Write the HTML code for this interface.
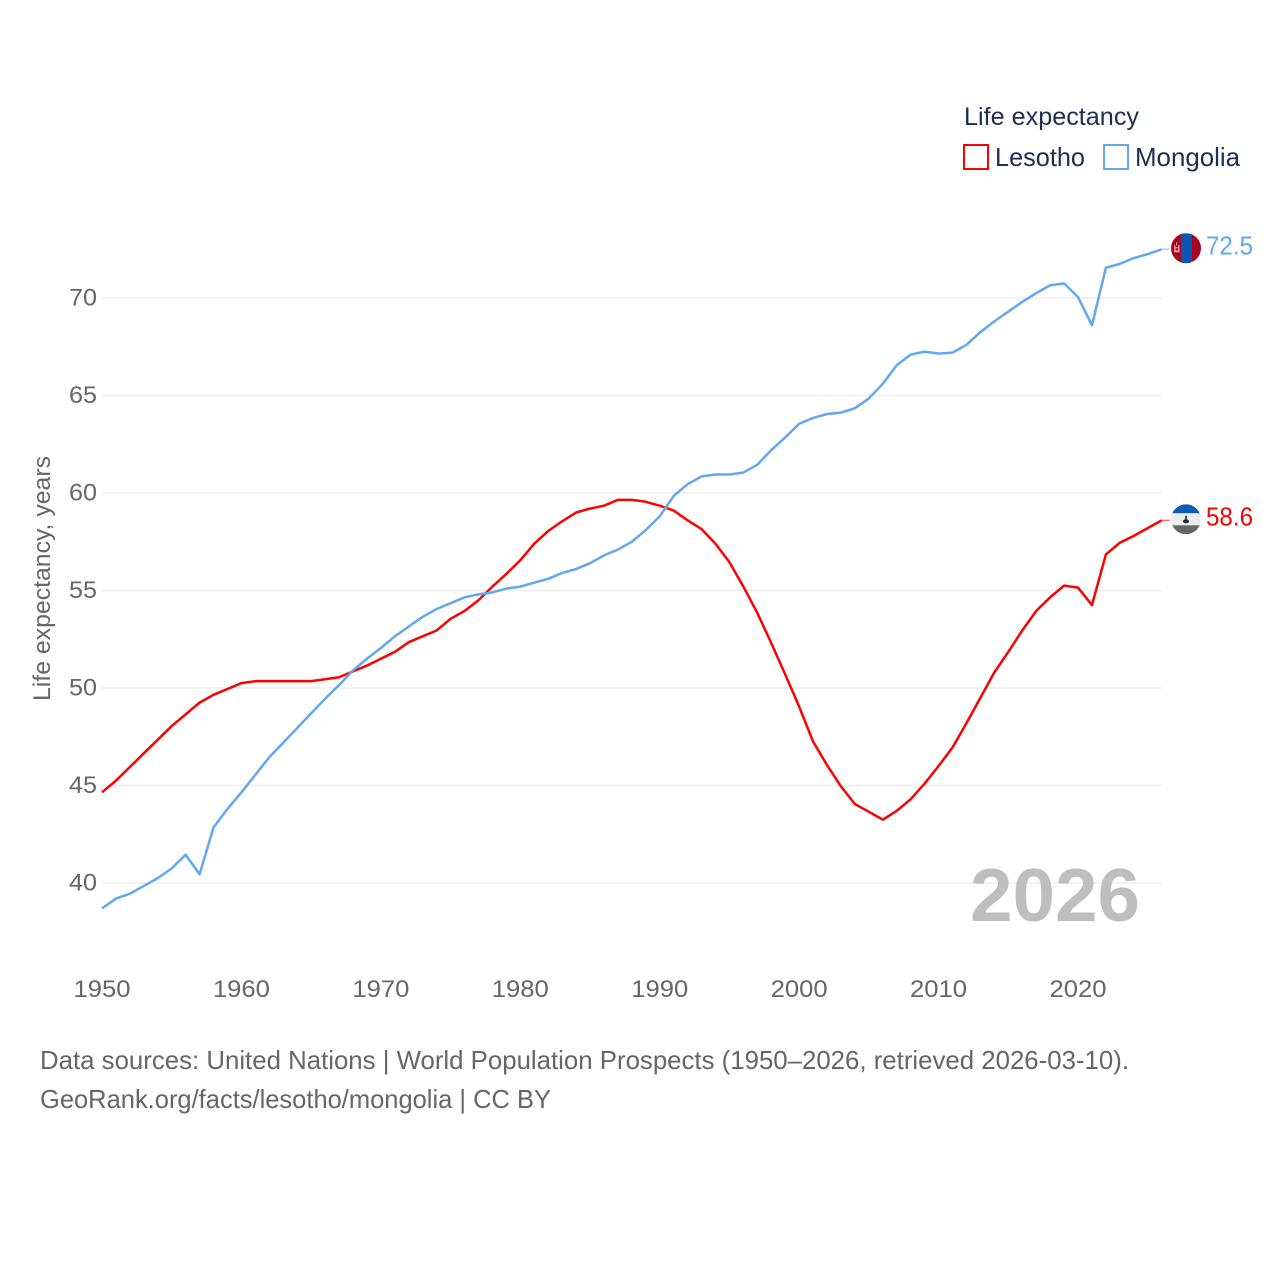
<!DOCTYPE html>
<html lang="en">
<head>
<meta charset="utf-8">
<title>Life expectancy: Lesotho and Mongolia</title>
<style>
html,body{margin:0;padding:0;background:#fff;}
svg{display:block;font-family:"Liberation Sans",sans-serif;}
</style>
</head>
<body>
<svg id="chart" xmlns="http://www.w3.org/2000/svg" width="1280" height="1280" viewBox="0 0 1280 1280">
  <rect width="1280" height="1280" fill="#ffffff"/>
  <g id="grid"></g>
  <g id="yticks"></g>
  <g id="xticks"></g>
  <text transform="translate(50,701) rotate(-90)" font-size="24" fill="#666666" textLength="245" lengthAdjust="spacingAndGlyphs">Life expectancy, years</text>

  <text x="970" y="921" font-size="75" font-weight="700" fill="#bebebe" textLength="170" lengthAdjust="spacingAndGlyphs">2026</text>
  <g id="series"></g>

  <g>
    <text x="964" y="125" font-size="25" fill="#1b2f50" textLength="175" lengthAdjust="spacingAndGlyphs">Life expectancy</text>
    <g>
      <rect x="964" y="145" width="24" height="24" fill="none" stroke="#ff0000" stroke-width="2"/>
      <text x="995" y="166" font-size="26" fill="#1b2f50" textLength="90" lengthAdjust="spacingAndGlyphs">Lesotho</text>
    </g>
    <g>
      <rect x="1104" y="145" width="24" height="24" fill="none" stroke="#63a8ee" stroke-width="2"/>
      <text x="1135" y="166" font-size="26" fill="#1b2f50" textLength="105" lengthAdjust="spacingAndGlyphs">Mongolia</text>
    </g>
  </g>

  <g id="flags"></g>

  <g>
    <text x="40" y="1069" font-size="26" fill="#666666" textLength="1089" lengthAdjust="spacingAndGlyphs">Data sources: United Nations | World Population Prospects (1950–2026, retrieved 2026-03-10).</text>
    <text x="40" y="1108" font-size="26" fill="#666666" textLength="511" lengthAdjust="spacingAndGlyphs">GeoRank.org/facts/lesotho/mongolia | CC BY</text>
  </g>

  <defs>
    <clipPath id="clip-mongolia"><circle id="clip-mongolia-circle" r="15"/></clipPath>
    <clipPath id="clip-lesotho"><circle id="clip-lesotho-circle" r="15"/></clipPath>
  </defs>
</svg>
<script>
const startYear = 1950;
const xTickYears = [1950, 1960, 1970, 1980, 1990, 2000, 2010, 2020];
const yTickValues = [40, 45, 50, 55, 60, 65, 70];
const lesothoValues = [
  44.65, 45.25, 45.95, 46.65, 47.35, 48.05, 48.65, 49.25, 49.65, 49.95,
  50.25, 50.35, 50.35, 50.35, 50.35, 50.35, 50.45, 50.55, 50.85, 51.15,
  51.5, 51.85, 52.35, 52.65, 52.95, 53.55, 53.95, 54.5, 55.2, 55.85,
  56.55, 57.4, 58.05, 58.55, 59.0, 59.2, 59.35, 59.65, 59.65, 59.55,
  59.35, 59.1, 58.6, 58.15, 57.4, 56.45, 55.2, 53.85, 52.3, 50.7,
  49.05, 47.25, 46.05, 44.95, 44.05, 43.65, 43.25, 43.7, 44.3, 45.1,
  46.0, 46.95, 48.2, 49.5, 50.8, 51.85, 52.95, 53.95, 54.65, 55.25,
  55.15, 54.25, 56.85, 57.45, 57.8, 58.2, 58.6
];
const mongoliaValues = [
  38.7, 39.2, 39.45, 39.85, 40.25, 40.75, 41.45, 40.45, 42.85, 43.8,
  44.65, 45.55, 46.45, 47.2, 47.95, 48.7, 49.45, 50.15, 50.9, 51.5,
  52.05, 52.65, 53.15, 53.65, 54.05, 54.35, 54.65, 54.8, 54.9, 55.1,
  55.2, 55.4, 55.6, 55.9, 56.1, 56.4, 56.8, 57.1, 57.5, 58.1,
  58.8, 59.85, 60.45, 60.85, 60.95, 60.95, 61.05, 61.45, 62.2, 62.85,
  63.55, 63.85, 64.05, 64.12, 64.35, 64.85, 65.6, 66.55, 67.1, 67.25,
  67.15, 67.2, 67.6, 68.25, 68.8, 69.3, 69.8, 70.25, 70.65, 70.75,
  70.05, 68.6, 71.55, 71.75, 72.05, 72.25, 72.5
];

const SVG_NS = 'http://www.w3.org/2000/svg';
function xScale(year) { return 102 + (year - 1950) * (976 / 70); }
function yScale(value) { return 883 - (value - 40) * 19.5; }
function make(tag, parent) {
  const el = document.createElementNS(SVG_NS, tag);
  parent.appendChild(el);
  return el;
}
function setAll(el, attrs) {
  for (const k in attrs) el.setAttribute(k, attrs[k]);
}

const gridG = document.getElementById('grid');
const yTickG = document.getElementById('yticks');
const xTickG = document.getElementById('xticks');
const seriesG = document.getElementById('series');
const flagsG = document.getElementById('flags');

const endYear = startYear + lesothoValues.length - 1;

yTickValues.forEach(function (v) {
  const line = make('line', gridG);
  
  
  setAll(line, { x1: xScale(startYear), x2: xScale(endYear), y1: yScale(v), y2: yScale(v), stroke: '#eeeeee', 'stroke-width': 1.6 });
  const t = make('text', yTickG);
  
  
  setAll(t, { x: 69, y: yScale(v) + 7.5, 'font-size': 24, fill: '#666666', textLength: 28, lengthAdjust: 'spacingAndGlyphs' });
  t.textContent = String(v);
});

xTickYears.forEach(function (yr) {
  const t = make('text', xTickG);
  
  
  setAll(t, { x: xScale(yr) - 28.5, y: 997, 'font-size': 24, fill: '#666666', textLength: 57, lengthAdjust: 'spacingAndGlyphs' });
  t.textContent = String(yr);
});

function drawSeries(values, color) {
  const pts = values.map(function (v, i) {
    return xScale(startYear + i).toFixed(2) + ',' + yScale(v).toFixed(2);
  }).join(' ');
  const lastY = yScale(values[values.length - 1]);
  const connector = make('line', seriesG);
  
  
  setAll(connector, { x1: xScale(endYear), x2: xScale(endYear) + 8, y1: lastY, y2: lastY, stroke: color, 'stroke-width': 1.2, opacity: 0.7 });
  const line = make('polyline', seriesG);
  
  
  setAll(line, { points: pts, fill: 'none', stroke: color, 'stroke-width': 2.5, 'stroke-linejoin': 'round' });
}
drawSeries(lesothoValues, '#ff0000');
drawSeries(mongoliaValues, '#63a8ee');

function drawValueLabel(values, color) {
  const last = values[values.length - 1];
  const t = make('text', flagsG);
  
  
  setAll(t, { x: 1206, y: yScale(last) + 5, 'font-size': 26, fill: color, textLength: 47, lengthAdjust: 'spacingAndGlyphs' });
  t.textContent = last.toFixed(1);
}
drawValueLabel(lesothoValues, '#ff0000');
drawValueLabel(mongoliaValues, '#63a8ee');

function flagRect(group, x, y, w, h, fill) {
  const r = make('rect', group);
  
  
  setAll(r, { x: x, y: y, width: w, height: h, fill: fill });
}

const flagCx = 1186;

/* Mongolia flag */
const mY = yScale(mongoliaValues[mongoliaValues.length - 1]) - 1;
setAll(document.getElementById('clip-mongolia-circle'), { cx: flagCx, cy: mY });
const mFlag = make('g', flagsG);


mFlag.setAttribute('clip-path', 'url(#clip-mongolia)');
flagRect(mFlag, flagCx - 15, mY - 15, 30, 30, '#a5051f');
flagRect(mFlag, flagCx - 5, mY - 15, 11, 30, '#0a55b5');
flagRect(mFlag, flagCx - 12, mY - 3, 1.5, 7, '#f29aa0');
flagRect(mFlag, flagCx - 8, mY - 3, 1.5, 7, '#f29aa0');
flagRect(mFlag, flagCx - 10.5, mY - 1, 2.5, 1, '#f29aa0');
flagRect(mFlag, flagCx - 10.5, mY + 2, 2.5, 2, '#f29aa0');
flagRect(mFlag, flagCx - 10, mY - 6, 1.2, 3, '#f29aa0');

/* Lesotho flag */
const lY = yScale(lesothoValues[lesothoValues.length - 1]) - 1;
setAll(document.getElementById('clip-lesotho-circle'), { cx: flagCx, cy: lY });
const lFlag = make('g', flagsG);


lFlag.setAttribute('clip-path', 'url(#clip-lesotho)');
flagRect(lFlag, flagCx - 15, lY - 15, 30, 9, '#0b5cb5');
flagRect(lFlag, flagCx - 15, lY - 6, 30, 12, '#ececec');
flagRect(lFlag, flagCx - 15, lY + 6, 30, 9, '#666666');
flagRect(lFlag, flagCx - 0.8, lY - 3.5, 1.6, 5, '#1a2a44');
const hat = make('ellipse', lFlag);


setAll(hat, { cx: flagCx, cy: lY + 2, rx: 3, ry: 2, fill: '#1a2a44' });
</script>
</body>
</html>
